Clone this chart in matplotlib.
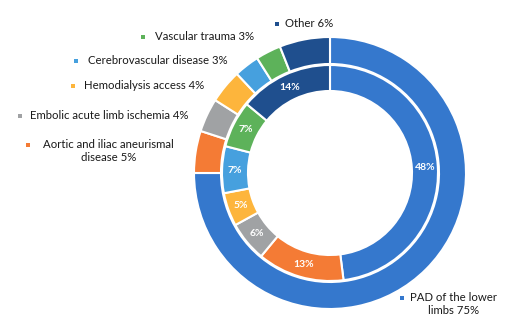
import matplotlib.pyplot as plt

plt.rcParams["font.family"] = ["Lato", "DejaVu Sans"]

# outer ring: share of procedures
outer_labels = [
    "PAD of the lower\nlimbs 75%",
    "Aortic and iliac aneurismal\ndisease 5%",
    "Embolic acute limb ischemia 4%",
    "Hemodialysis access 4%",
    "Cerebrovascular disease 3%",
    "Vascular trauma 3%",
    "Other 6%",
]
outer_values = [75, 5, 4, 4, 3, 3, 6]

# inner ring
inner_values = [48, 13, 6, 5, 7, 7, 14]
inner_text = ["48%", "13%", "6%", "5%", "7%", "7%", "14%"]

colors = ["#3578CD", "#F47B35", "#A0A2A4", "#FDB53C", "#46A0DE", "#5DB25A", "#1F4F8E"]

fig = plt.figure(figsize=(5.11, 3.31), dpi=100)
ax = fig.add_axes([0, 0, 1, 1])

cx, cy = 330, 331 - 173

ax.pie(
    outer_values,
    colors=colors,
    radius=136,
    center=(cx, cy),
    startangle=90,
    counterclock=False,
    wedgeprops=dict(width=27, edgecolor="white", linewidth=1.5),
    frame=True,
)
ax.pie(
    inner_values,
    colors=colors,
    radius=108,
    center=(cx, cy),
    startangle=90,
    counterclock=False,
    labels=inner_text,
    labeldistance=(108 - 13) / 108,
    textprops=dict(color="white", fontsize=7.5, fontweight="bold",
                   ha="center", va="center"),
    wedgeprops=dict(width=26, edgecolor="white", linewidth=1.5),
    frame=True,
)
ax.set_xlim(0, 511)
ax.set_ylim(0, 331)
ax.set_aspect("equal")
ax.axis("off")

# legend-style labels: marker x, marker y (pixels from top), text x
label_pos = [
    (402, 298, 410),
    (28, 145, 43),
    (20, 116, 30),
    (73, 86, 84),
    (76, 61, 88),
    (143, 37, 155),
    (277, 24, 285),
]
for (mx, my, tx), lab, col in zip(label_pos, outer_labels, colors):
    ax.scatter(mx, 331 - my, marker="s", s=12, color=col, linewidths=0)
    ax.text(tx, 331 - my + 6, lab, fontsize=8.2, ha="left", va="top",
            color="#1a1a1a", linespacing=1.25, multialignment="center")

fig.savefig("out.png", dpi=100)
